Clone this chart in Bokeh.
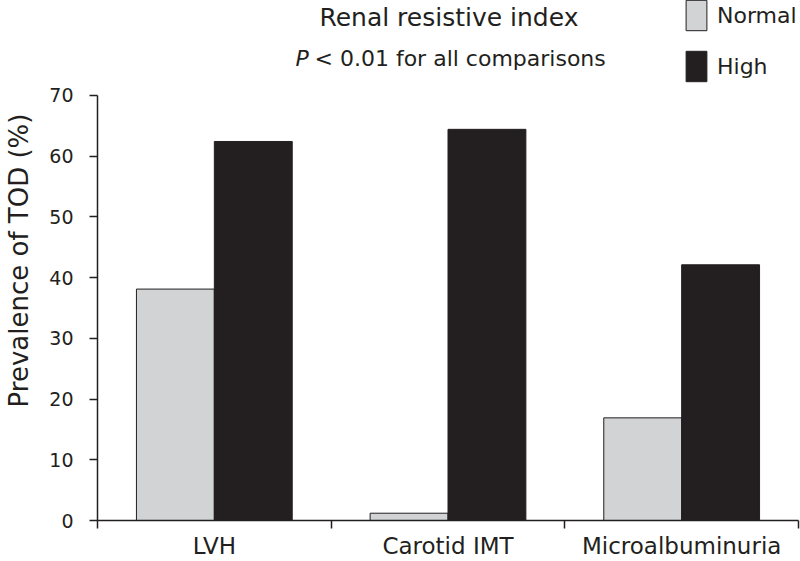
from bokeh.plotting import figure
from bokeh.models import (Range1d, FixedTicker, Legend, LegendItem, Label,
                          ColumnDataSource)
from bokeh.transform import dodge
from bokeh.embed import file_html
from bokeh.resources import INLINE

# ---- data ----
categories = ["LVH", "Carotid IMT", "Microalbuminuria"]
normal = [38.1, 1.2, 16.9]
high = [62.4, 64.4, 42.1]
series_names = ["Normal", "High"]
y_ticks = [0, 10, 20, 30, 40, 50, 60, 70]
y_axis_max = 70
title_text = "Renal resistive index"
subtitle_p = "P"
subtitle_rest = "< 0.01 for all comparisons"
y_label = "Prevalence of TOD (%)"

FONT = "DejaVu Sans"
INK = "#231f20"
GRAY = "#d1d3d4"

n = len(categories)
src = ColumnDataSource(dict(
    x=[i + 0.5 for i in range(n)],
    normal=normal,
    high=high,
))

# frame spans from the canvas top down to the value axis; the y axis line
# itself is bounded to 0..70 so the area above holds the titles and legend
p = figure(width=800, height=561, output_backend="svg", toolbar_location=None,
           x_range=Range1d(0, n), y_range=Range1d(0, 85.61),
           min_border_left=97, min_border_right=2,
           min_border_top=0, min_border_bottom=40)
p.outline_line_color = None
p.grid.visible = False
p.background_fill_color = "white"

bw = 1 / 3
r_normal = p.vbar(x=dodge("x", -bw / 2, range=p.x_range), top="normal", width=bw,
                  source=src, fill_color=GRAY, line_color=INK, line_width=1)
r_high = p.vbar(x=dodge("x", bw / 2, range=p.x_range), top="high", width=bw,
                source=src, fill_color=INK, line_color=INK, line_width=1)

# ---- x axis: labels at centres, ticks at boundaries ----
xa = p.xaxis[0]
xa.ticker = FixedTicker(ticks=[i + 0.5 for i in range(n)],
                        minor_ticks=[float(i) for i in range(n + 1)])
xa.major_label_overrides = {i + 0.5: c for i, c in enumerate(categories)}
xa.major_tick_out = 0
xa.major_tick_in = 0
xa.minor_tick_out = 8
xa.minor_tick_in = 0
xa.minor_tick_line_color = INK
xa.minor_tick_line_width = 1.5
xa.axis_line_color = INK
xa.axis_line_width = 1.5
xa.major_label_text_font = FONT
xa.major_label_text_font_size = "23px"
xa.major_label_text_color = INK
xa.major_label_standoff = 4

# ---- y axis ----
ya = p.yaxis[0]
ya.ticker = FixedTicker(ticks=y_ticks)
ya.bounds = (0, y_axis_max)
ya.major_tick_out = 8
ya.major_tick_in = 0
ya.minor_tick_line_color = None
ya.major_tick_line_color = INK
ya.major_tick_line_width = 1.5
ya.axis_line_color = INK
ya.axis_line_width = 1.5
ya.major_label_text_font = FONT
ya.major_label_text_font_size = "19px"
ya.major_label_text_color = INK
ya.major_label_standoff = 16
ya.axis_label = y_label
ya.axis_label_text_font = FONT
ya.axis_label_text_font_size = "26px"
ya.axis_label_text_font_style = "normal"
ya.axis_label_text_color = INK
ya.axis_label_standoff = 12

# ---- titles ----
p.add_layout(Label(x=1.504, y=82.78, text=title_text, text_align="center",
                   text_baseline="alphabetic", text_font=FONT,
                   text_font_size="25px", text_color=INK))
p.add_layout(Label(x=0.847, y=76.13, text=subtitle_p, text_align="left",
                   text_baseline="alphabetic", text_font=FONT,
                   text_font_style="italic",
                   text_font_size="22px", text_color=INK))
p.add_layout(Label(x=0.9287, y=76.13, text=subtitle_rest, text_align="left",
                   text_baseline="alphabetic", text_font=FONT,
                   text_font_size="22px", text_color=INK))

# ---- legend (area glyphs are drawn with a 10% inset) ----
legend = Legend(items=[LegendItem(label=series_names[0], renderers=[r_normal]),
                       LegendItem(label=series_names[1], renderers=[r_high])],
                location=(586, 435), orientation="vertical",
                glyph_width=26, glyph_height=38, label_height=38,
                spacing=13, padding=0, margin=0,
                border_line_color=None, background_fill_alpha=0,
                label_text_font=FONT, label_text_font_size="22px",
                label_text_color=INK, label_standoff=8)
p.add_layout(legend, "center")

open("out.html", "w").write(file_html(p, INLINE))
